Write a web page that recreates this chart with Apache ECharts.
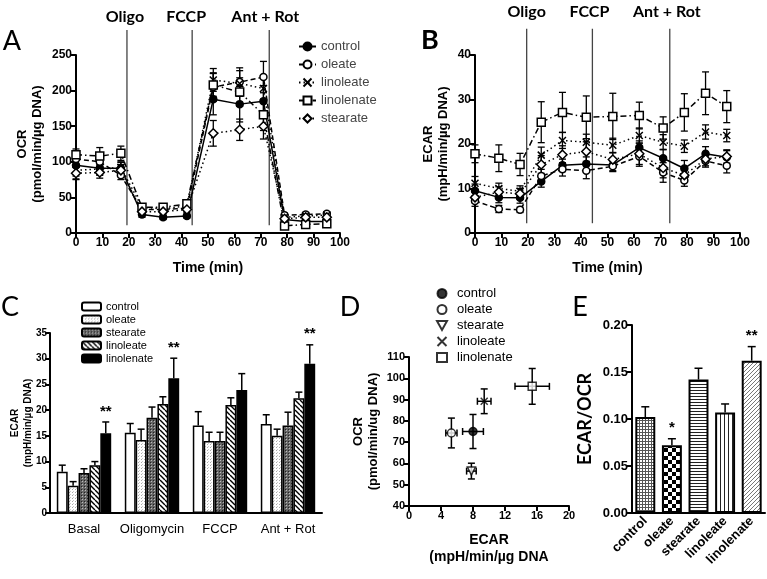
<!DOCTYPE html>
<html><head><meta charset="utf-8">
<script src="https://cdn.jsdelivr.net/npm/echarts@6/dist/echarts.min.js"></script>
<style>html,body{margin:0;padding:0;background:#fff}#c{width:767px;height:579px}</style>
</head><body><div id="c"></div>
<script>
// ================= DATA =================
const timePoints = [0, 9, 17, 25, 33, 42, 52, 62, 71, 79, 87, 95];
const injectionNames = ['Oligo', 'FCCP', 'Ant + Rot'];
const injectionTimesA = [19.3, 44, 73.2];
const injectionTimesB = [19.5, 44.3, 73.5];
const groupNames = ['control', 'oleate', 'linoleate', 'linolenate', 'stearate'];

// Panel A: OCR (pmol/min/µg DNA)
const ocrControl       = [95, 91, 91, 26, 22, 24, 188, 181, 185, 19, 16, 16];
const ocrControlErr    = [20, 10, 8, 4, 3, 3, 22, 25, 22, 3, 3, 3];
const ocrOleate        = [104, 100, 81, 33, 33, 35, 205, 212, 219, 25, 26, 27];
const ocrOleateErr     = [10, 12, 6, 4, 4, 5, 20, 20, 22, 3, 3, 3];
const ocrLinoleate     = [88, 90, 92, 36, 34, 38, 215, 210, 203, 22, 24, 25];
const ocrLinoleateErr  = [8, 8, 8, 4, 4, 4, 16, 18, 18, 3, 3, 3];
const ocrLinolenate    = [110, 108, 112, 36, 36, 41, 208, 198, 166, 10, 12, 13];
const ocrLinolenateErr = [8, 12, 10, 4, 4, 5, 16, 20, 22, 3, 3, 3];
const ocrStearate      = [84, 85, 88, 30, 30, 33, 140, 145, 150, 20, 22, 22];
const ocrStearateErr   = [8, 8, 8, 3, 3, 4, 18, 15, 18, 3, 3, 3];

// Panel B: ECAR (mpH/min/µg DNA)
const ecarControl       = [9.5, 8.0, 7.9, 11.6, 15.2, 15.5, 15.3, 19.2, 16.8, 14.5, 17.8, 17.0];
const ecarControlErr    = [1.5, 1.2, 1.2, 1.3, 1.4, 1.6, 1.3, 1.5, 2.0, 1.8, 1.6, 1.5];
const ecarOleate        = [7.2, 5.4, 5.2, 12.8, 14.3, 14.0, 15.0, 17.2, 13.6, 11.8, 16.2, 15.1];
const ecarOleateErr     = [1.2, 0.8, 0.6, 1.5, 1.5, 1.8, 1.2, 2.2, 2.2, 1.3, 1.4, 1.6];
const ecarLinoleate     = [11.2, 10.0, 9.4, 17.5, 20.8, 20.4, 19.7, 21.9, 20.4, 19.5, 22.7, 21.9];
const ecarLinoleateErr  = [1.5, 1.2, 1.2, 1.8, 1.8, 1.8, 1.6, 1.7, 1.7, 1.4, 1.6, 1.4];
const ecarLinolenate    = [17.8, 16.8, 15.4, 24.9, 27.1, 26.0, 26.2, 26.4, 23.6, 27.1, 31.4, 28.4];
const ecarLinolenateErr = [2.0, 3.0, 2.5, 4.6, 4.5, 4.8, 5.2, 3.0, 2.5, 4.2, 4.8, 3.6];
const ecarStearate      = [8.0, 9.2, 8.8, 15.4, 17.6, 18.3, 16.5, 17.8, 14.6, 13.0, 16.6, 17.2];
const ecarStearateErr   = [1.2, 1.2, 1.2, 2.0, 2.0, 2.2, 1.5, 2.4, 2.2, 1.4, 1.5, 1.5];

// Panel C: ECAR bars
const cCategories = ['Basal', 'Oligomycin', 'FCCP', 'Ant + Rot'];
const cGroups = ['control', 'oleate', 'stearate', 'linoleate', 'linolenate'];
const cControl       = [8.0, 15.6, 17.0, 17.3];
const cControlErr    = [1.3, 1.8, 2.7, 1.8];
const cOleate        = [5.3, 14.2, 14.0, 15.0];
const cOleateErr     = [0.8, 2.1, 1.7, 1.3];
const cStearate      = [7.8, 18.5, 14.0, 17.0];
const cStearateErr   = [0.8, 2.1, 1.7, 2.6];
const cLinoleate     = [9.3, 21.2, 21.0, 22.3];
const cLinoleateErr  = [0.7, 1.4, 1.4, 1.2];
const cLinolenate    = [15.5, 26.2, 23.9, 29.0];
const cLinolenateErr = [2.2, 3.9, 3.2, 3.7];
const cStars = ['**', '**', '', '**'];

// Panel D: OCR vs ECAR (basal)
const dGroups = ['control', 'oleate', 'stearate', 'linoleate', 'linolenate'];
const dEcar    = [8.0, 5.3, 7.8, 9.4, 15.4];
const dEcarErr = [1.3, 0.7, 0.6, 0.85, 2.15];
const dOcr     = [75, 74.3, 56.4, 89.2, 96.2];
const dOcrErr  = [8, 7, 3.7, 5.8, 8.4];

// Panel E: ECAR/OCR
const eCategories = ['control', 'oleate', 'stearate', 'linoleate', 'linolenate'];
const eRatio    = [0.102, 0.072, 0.142, 0.107, 0.162];
const eRatioErr = [0.011, 0.007, 0.012, 0.009, 0.015];
const eStars = ['', '*', '', '', '**'];

// ================= STYLE =================
const FONT = 'Liberation Sans, Arial, sans-serif';
const CAL = 'Lato, Carlito, "Open Sans", sans-serif';
const X_PATH = 'path://M0,0L10,10M10,0L0,10';
const TRI_DOWN = 'path://M0,0L10,0L5,9Z';

const lineLook = {
  control:    {type: 'solid',        symbol: 'circle',  fill: '#000', size: 7},
  oleate:     {type: [5, 3],         symbol: 'circle',  fill: '#fff', size: 7},
  linoleate:  {type: [1.5, 3],       symbol: X_PATH,    fill: '#000', size: 7},
  linolenate: {type: [6, 3, 1.5, 3], symbol: 'rect',    fill: '#fff', size: 8},
  stearate:   {type: [1.5, 3],       symbol: 'diamond', fill: '#fff', size: 9}
};

function makePattern(size, draw) {
  const c = document.createElement('canvas');
  c.width = size; c.height = size;
  const g = c.getContext('2d');
  g.fillStyle = '#fff'; g.fillRect(0, 0, size, size);
  draw(g, size);
  return {image: c, repeat: 'repeat'};
}
function diag(dir, color, lw) {
  return function (g, s) {
    g.strokeStyle = color; g.lineWidth = lw; g.beginPath();
    for (let k = -1; k <= 1; k++) {
      if (dir > 0) { g.moveTo(k * s, s); g.lineTo(k * s + s, 0); }
      else { g.moveTo(k * s, 0); g.lineTo(k * s + s, s); }
    }
    g.stroke();
  };
}
const cFill = {
  control: '#fff',
  oleate: makePattern(3, g => { g.fillStyle = '#aaa'; g.fillRect(0, 0, 1, 1); g.fillStyle = '#ccc'; g.fillRect(1, 2, 1, 1); }),
  stearate: makePattern(3, g => { g.fillStyle = '#666'; g.fillRect(0, 0, 3, 3); g.fillStyle = '#bbb'; g.fillRect(1, 1, 1, 1); g.fillStyle = '#222'; g.fillRect(0, 0, 1, 1); }),
  linoleate: makePattern(5, diag(-1, '#000', 1.4)),
  linolenate: '#000'
};
const eFill = [
  makePattern(3, g => { g.fillStyle = '#555'; g.fillRect(0, 0, 3, 1); g.fillRect(0, 0, 1, 3); }),
  makePattern(8, g => { g.fillStyle = '#000'; g.fillRect(0, 0, 4, 4); g.fillRect(4, 4, 4, 4); }),
  makePattern(3, g => { g.fillStyle = '#222'; g.fillRect(0, 0, 3, 1); }),
  makePattern(4, g => { g.fillStyle = '#222'; g.fillRect(0, 0, 1, 4); }),
  makePattern(4, diag(1, '#777', 1))
];

const axLine = {show: true, onZero: false, lineStyle: {color: '#000', width: 2}};
const axTick = {show: true, length: 5, inside: false, lineStyle: {color: '#000', width: 2}};
function lbl(size, extra) {
  return Object.assign({color: '#000', fontFamily: FONT, fontWeight: 'bold', fontSize: size, margin: 4, showMinLabel: true, showMaxLabel: true}, extra || {});
}
function nameTS(size, extra) {
  return Object.assign({color: '#000', fontFamily: FONT, fontWeight: 'bold', fontSize: size}, extra || {});
}
function valAxis(grid, min, max, interval, extra) {
  return Object.assign({
    gridIndex: grid, type: 'value', min: min, max: max, interval: interval,
    axisLine: axLine, axisTick: axTick, splitLine: {show: false}, axisLabel: lbl(12)
  }, extra || {});
}

// ================= RENDERERS =================
function errRendererV(capHalf, lw) {
  return function (params, api) {
    const x = api.value(0), y = api.value(1), e = api.value(2);
    const lo = api.coord([x, y - e]), hi = api.coord([x, y + e]);
    const st = {stroke: '#000', lineWidth: lw};
    return {type: 'group', children: [
      {type: 'line', shape: {x1: lo[0], y1: lo[1], x2: hi[0], y2: hi[1]}, style: st},
      {type: 'line', shape: {x1: hi[0] - capHalf, y1: hi[1], x2: hi[0] + capHalf, y2: hi[1]}, style: st},
      {type: 'line', shape: {x1: lo[0] - capHalf, y1: lo[1], x2: lo[0] + capHalf, y2: lo[1]}, style: st}
    ]};
  };
}
function injRenderer(topVal, botVal, dxs, labelGap) {
  return function (params, api) {
    const t = api.value(0);
    const top = api.coord([t, topVal]), bot = api.coord([t, botVal]);
    return {type: 'group', children: [
      {type: 'line', shape: {x1: top[0], y1: top[1], x2: bot[0], y2: bot[1]}, style: {stroke: '#444', lineWidth: 1.3}},
      {type: 'text', style: {x: top[0] + dxs[params.dataIndex], y: top[1] - labelGap, text: injectionNames[params.dataIndex],
        align: 'center', verticalAlign: 'middle', fill: '#000', font: 'bold 16px ' + CAL}}
    ]};
  };
}
function groupedErrRenderer(nSeries, gapRatio, capHalf, stars, starSeries) {
  return function (params, api) {
    const ci = api.value(0), v = api.value(1), e = api.value(2), si = api.value(3);
    const band = api.size([1, 0])[0];
    const group = band * (1 - gapRatio);
    const bw = group / nSeries;
    const dx = -group / 2 + (si + 0.5) * bw;
    const lo = api.coord([ci, v]), hi = api.coord([ci, v + e]);
    const st = {stroke: '#000', lineWidth: 1.5};
    const ch = [
      {type: 'line', shape: {x1: lo[0] + dx, y1: lo[1], x2: hi[0] + dx, y2: hi[1]}, style: st},
      {type: 'line', shape: {x1: hi[0] + dx - capHalf, y1: hi[1], x2: hi[0] + dx + capHalf, y2: hi[1]}, style: st}
    ];
    if (si === starSeries && stars[ci]) {
      ch.push({type: 'text', style: {x: hi[0] + dx, y: hi[1] - 3, text: stars[ci], align: 'center', verticalAlign: 'bottom',
        fill: '#000', font: 'bold 15px ' + FONT}});
    }
    return {type: 'group', children: ch};
  };
}
function xyErrRenderer(params, api) {
  const x = api.value(0), y = api.value(1), xe = api.value(2), ye = api.value(3);
  const l = api.coord([x - xe, y]), r = api.coord([x + xe, y]);
  const t = api.coord([x, y + ye]), b = api.coord([x, y - ye]);
  const st = {stroke: '#000', lineWidth: 1.5};
  const c = 3.5;
  return {type: 'group', children: [
    {type: 'line', shape: {x1: l[0], y1: l[1], x2: r[0], y2: r[1]}, style: st},
    {type: 'line', shape: {x1: l[0], y1: l[1] - c, x2: l[0], y2: l[1] + c}, style: st},
    {type: 'line', shape: {x1: r[0], y1: r[1] - c, x2: r[0], y2: r[1] + c}, style: st},
    {type: 'line', shape: {x1: t[0], y1: t[1], x2: b[0], y2: b[1]}, style: st},
    {type: 'line', shape: {x1: t[0] - c, y1: t[1], x2: t[0] + c, y2: t[1]}, style: st},
    {type: 'line', shape: {x1: b[0] - c, y1: b[1], x2: b[0] + c, y2: b[1]}, style: st}
  ]};
}

// ================= SERIES =================
const ocrBy = {control: [ocrControl, ocrControlErr], oleate: [ocrOleate, ocrOleateErr], linoleate: [ocrLinoleate, ocrLinoleateErr],
  linolenate: [ocrLinolenate, ocrLinolenateErr], stearate: [ocrStearate, ocrStearateErr]};
const ecarBy = {control: [ecarControl, ecarControlErr], oleate: [ecarOleate, ecarOleateErr], linoleate: [ecarLinoleate, ecarLinoleateErr],
  linolenate: [ecarLinolenate, ecarLinolenateErr], stearate: [ecarStearate, ecarStearateErr]};
const cBy = {control: [cControl, cControlErr], oleate: [cOleate, cOleateErr], stearate: [cStearate, cStearateErr],
  linoleate: [cLinoleate, cLinoleateErr], linolenate: [cLinolenate, cLinolenateErr]};

const series = [];
series.push({type: 'custom', xAxisIndex: 0, yAxisIndex: 0, z: 1, silent: true,
  renderItem: injRenderer(285, 11, [-2, -6, -4], 13), data: injectionTimesA.map(t => [t, 0])});
series.push({type: 'custom', xAxisIndex: 1, yAxisIndex: 1, z: 1, silent: true,
  renderItem: injRenderer(45.9, 2.2, [0, -3, -3], 17), data: injectionTimesB.map(t => [t, 0])});

function timeCourse(by, axis, suffix) {
  const errData = [];
  groupNames.forEach(n => { by[n][0].forEach((v, i) => errData.push([timePoints[i], v, by[n][1][i]])); });
  series.push({type: 'custom', xAxisIndex: axis, yAxisIndex: axis, z: 2, silent: true,
    renderItem: errRendererV(3.5, 1.3), data: errData});
  groupNames.forEach(n => {
    const lk = lineLook[n];
    series.push({type: 'line', name: n + suffix, xAxisIndex: axis, yAxisIndex: axis, z: 3,
      data: by[n][0].map((v, i) => [timePoints[i], v]),
      symbol: lk.symbol, symbolSize: lk.size, showSymbol: true,
      lineStyle: {color: '#000', width: 1.5, type: lk.type},
      itemStyle: {color: lk.fill, borderColor: '#000', borderWidth: 1.5}
    });
  });
}
timeCourse(ocrBy, 0, '');
timeCourse(ecarBy, 1, '|B');

cGroups.forEach(n => {
  series.push({type: 'bar', name: n + '|C', xAxisIndex: 2, yAxisIndex: 2, z: 2,
    barGap: '0%', barCategoryGap: '20%', data: cBy[n][0],
    itemStyle: {color: cFill[n], borderColor: '#000', borderWidth: 1.5}});
});
const cErrData = [];
cGroups.forEach((n, si) => cBy[n][0].forEach((v, ci) => cErrData.push([ci, v, cBy[n][1][ci], si])));
series.push({type: 'custom', xAxisIndex: 2, yAxisIndex: 2, z: 1, silent: true,
  renderItem: groupedErrRenderer(5, 0.2, 3.5, cStars, 4), data: cErrData});

series.push({type: 'custom', xAxisIndex: 3, yAxisIndex: 3, z: 2, silent: true,
  renderItem: xyErrRenderer, data: dGroups.map((n, i) => [dEcar[i], dOcr[i], dEcarErr[i], dOcrErr[i]])});
const dLook = {
  control: {symbol: 'circle', fill: '#000', size: 8},
  oleate: {symbol: 'circle', fill: '#fff', size: 8},
  stearate: {symbol: TRI_DOWN, fill: '#fff', size: 8},
  linoleate: {symbol: X_PATH, fill: '#000', size: 7},
  linolenate: {symbol: 'rect', fill: '#fff', size: 8}
};
dGroups.forEach((n, i) => {
  const lk = dLook[n];
  series.push({type: 'scatter', name: n + '|D', xAxisIndex: 3, yAxisIndex: 3, z: 3,
    data: [[dEcar[i], dOcr[i]]], symbol: lk.symbol, symbolSize: lk.size,
    itemStyle: {color: lk.fill, borderColor: '#000', borderWidth: 1.5}});
});

series.push({type: 'bar', name: 'ratio|E', xAxisIndex: 4, yAxisIndex: 4, z: 2, barCategoryGap: '25%',
  data: eRatio.map((v, i) => ({value: v, itemStyle: {color: eFill[i]}})),
  itemStyle: {borderColor: '#000', borderWidth: 2}});
series.push({type: 'custom', xAxisIndex: 4, yAxisIndex: 4, z: 1, silent: true,
  renderItem: groupedErrRenderer(1, 0.25, 4, eStars, 0), data: eRatio.map((v, i) => [i, v, eRatioErr[i], 0])});

// ================= OPTION =================
const legendFmt = n => n.split('|')[0];
const option = {
  animation: false,
  backgroundColor: '#fff',
  grid: [
    {left: 76, top: 55, width: 264, height: 178},
    {left: 475, top: 55, width: 265, height: 178},
    {left: 50, top: 333, width: 272, height: 180},
    {left: 409, top: 357, width: 160, height: 149},
    {left: 632, top: 325, width: 133, height: 188}
  ],
  xAxis: [
    valAxis(0, 0, 100, 10, {name: 'Time (min)', nameLocation: 'middle', nameGap: 28, nameTextStyle: nameTS(14)}),
    valAxis(1, 0, 100, 10, {name: 'Time (min)', nameLocation: 'middle', nameGap: 28, nameTextStyle: nameTS(14)}),
    {gridIndex: 2, type: 'category', data: cCategories, axisLine: axLine, axisTick: {show: false},
      axisLabel: {color: '#000', fontFamily: FONT, fontSize: 13, margin: 10, interval: 0}},
    valAxis(3, 0, 20, 4, {axisLabel: lbl(11), name: 'ECAR\n(mpH/min/µg DNA', nameLocation: 'middle', nameGap: 26,
      nameTextStyle: nameTS(14, {lineHeight: 17, verticalAlign: 'top'})}),
    {gridIndex: 4, type: 'category', data: eCategories, axisLine: axLine, axisTick: {show: false},
      axisLabel: {color: '#000', fontFamily: FONT, fontWeight: 'bold', fontSize: 13, rotate: 45, margin: 6, interval: 0}}
  ],
  yAxis: [
    valAxis(0, 0, 250, 50, {name: 'OCR\n(pmol/min/µg DNA)', nameLocation: 'middle', nameRotate: 90, nameGap: 31,
      nameTextStyle: nameTS(13, {lineHeight: 15})}),
    valAxis(1, 0, 40, 10, {name: 'ECAR\n(mpH/min/µg DNA)', nameLocation: 'middle', nameRotate: 90, nameGap: 24,
      nameTextStyle: nameTS(13, {lineHeight: 15})}),
    valAxis(2, 0, 35, 5, {axisLabel: lbl(10, {margin: 3}), name: 'ECAR\n(mpH/min/µg DNA)', nameLocation: 'middle', nameRotate: 90,
      nameGap: 15, nameMoveOverlap: false, nameTextStyle: nameTS(10, {lineHeight: 13})}),
    valAxis(3, 40, 110, 10, {axisLabel: lbl(11), name: 'OCR\n(pmol/min/ug DNA)', nameLocation: 'middle', nameRotate: 90, nameGap: 28,
      nameTextStyle: nameTS(13, {lineHeight: 15})}),
    valAxis(4, 0, 0.2, 0.05, {axisLabel: lbl(13, {formatter: v => v.toFixed(2)}), name: 'ECAR/OCR', nameLocation: 'middle', nameRotate: 90, nameGap: 38,
      nameTextStyle: {color: '#000', fontFamily: CAL, fontWeight: 'bold', fontSize: 18}})
  ],
  legend: [
    {data: groupNames, orient: 'vertical', left: 293, top: 35, itemWidth: 17, itemHeight: 10, itemGap: 5, selectedMode: false,
      formatter: legendFmt, textStyle: {fontFamily: FONT, fontSize: 13, color: '#444'}},
    {data: cGroups.map(n => n + '|C'), orient: 'vertical', left: 76, top: 296, itemWidth: 19, itemHeight: 8, itemGap: 2, selectedMode: false,
      formatter: legendFmt, textStyle: {fontFamily: FONT, fontSize: 11, color: '#000'}},
    {data: dGroups.map(n => n + '|D'), orient: 'vertical', left: 431, top: 282, itemWidth: 10, itemHeight: 9, itemGap: 3, selectedMode: false,
      formatter: legendFmt, textStyle: {fontFamily: FONT, fontSize: 13, color: '#000', padding: [0, 0, 0, 5]}}
  ],
  graphic: [
    {type: 'text', x: 12, y: 41, style: {text: 'A', fontSize: 27, fontFamily: CAL, fill: '#000', align: 'center', verticalAlign: 'middle'}},
    {type: 'text', x: 430, y: 40, style: {text: 'B', fontSize: 27, fontWeight: 'bold', fontFamily: CAL, fill: '#000', align: 'center', verticalAlign: 'middle'}},
    {type: 'text', x: 10, y: 307, style: {text: 'C', fontSize: 27, fontFamily: CAL, fill: '#000', align: 'center', verticalAlign: 'middle'}},
    {type: 'text', x: 350, y: 307, style: {text: 'D', fontSize: 27, fontFamily: CAL, fill: '#000', align: 'center', verticalAlign: 'middle'}},
    {type: 'text', x: 580, y: 307, style: {text: 'E', fontSize: 27, fontFamily: CAL, fill: '#000', align: 'center', verticalAlign: 'middle'}}
  ],
  series: series
};
const chart = echarts.init(document.getElementById('c'), null, {renderer: 'canvas', width: 767, height: 579});
chart.setOption(option);
</script>
</body></html>
